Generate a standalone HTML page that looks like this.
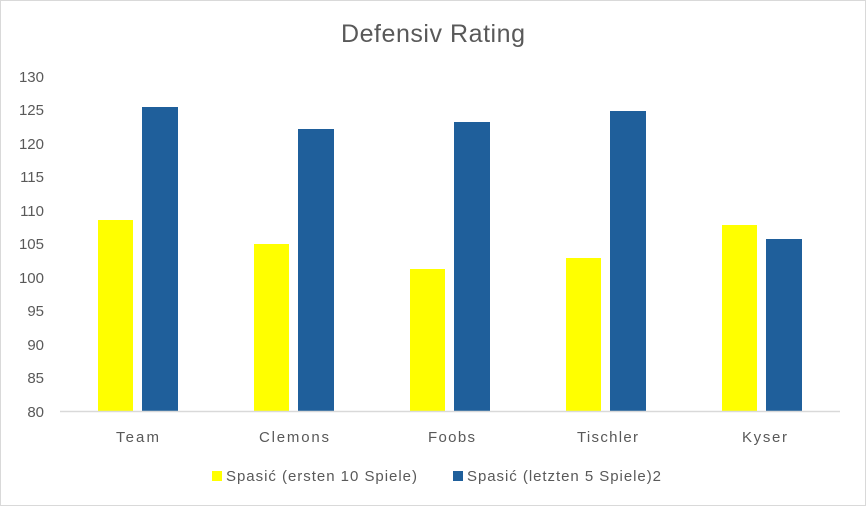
<!DOCTYPE html>
<html><head><meta charset="utf-8"><style>
body{margin:0;background:#fff}
svg{display:block;font-family:"Liberation Sans",sans-serif}
</style></head><body>
<svg width="866" height="506" viewBox="0 0 866 506">
<rect x="0.5" y="0.5" width="865" height="505" fill="#fff" stroke="#d9d9d9"/>
<text x="341" y="42" textLength="184" font-size="25" fill="#595959">Defensiv Rating</text>
<g font-size="15" fill="#595959" text-anchor="end">
<text x="44" y="82">130</text><text x="44" y="115">125</text><text x="44" y="149">120</text>
<text x="44" y="182">115</text><text x="44" y="216">110</text><text x="44" y="249">105</text>
<text x="44" y="283">100</text><text x="44" y="316">95</text><text x="44" y="350">90</text>
<text x="44" y="383">85</text><text x="44" y="417">80</text>
</g>
<g fill="#ffff00">
<rect x="98" y="220" width="35" height="191"/>
<rect x="254" y="244" width="35" height="167"/>
<rect x="410" y="269" width="35" height="142"/>
<rect x="566" y="258" width="35" height="153"/>
<rect x="722" y="225" width="35" height="186"/>
</g>
<g fill="#1f5f9b">
<rect x="142" y="107" width="36" height="304"/>
<rect x="298" y="129" width="36" height="282"/>
<rect x="454" y="122" width="36" height="289"/>
<rect x="610" y="111" width="36" height="300"/>
<rect x="766" y="239" width="36" height="172"/>
</g>
<line x1="60" y1="411.5" x2="840" y2="411.5" stroke="#d9d9d9" stroke-width="1.5"/>
<g font-size="15" fill="#595959">
<text x="116" y="442" textLength="43">Team</text><text x="259" y="442" textLength="70">Clemons</text><text x="428" y="442" textLength="47">Foobs</text>
<text x="577" y="442" textLength="61">Tischler</text><text x="742" y="442" textLength="45">Kyser</text>
</g>
<rect x="212" y="471" width="10" height="10" fill="#ffff00"/>
<text x="226" y="481" font-size="15" fill="#595959" textLength="191">Spasić (ersten 10 Spiele)</text>
<rect x="453" y="471" width="10" height="10" fill="#1f5f9b"/>
<text x="467" y="481" font-size="15" fill="#595959" textLength="194">Spasić (letzten 5 Spiele)2</text>
</svg>
</body></html>
